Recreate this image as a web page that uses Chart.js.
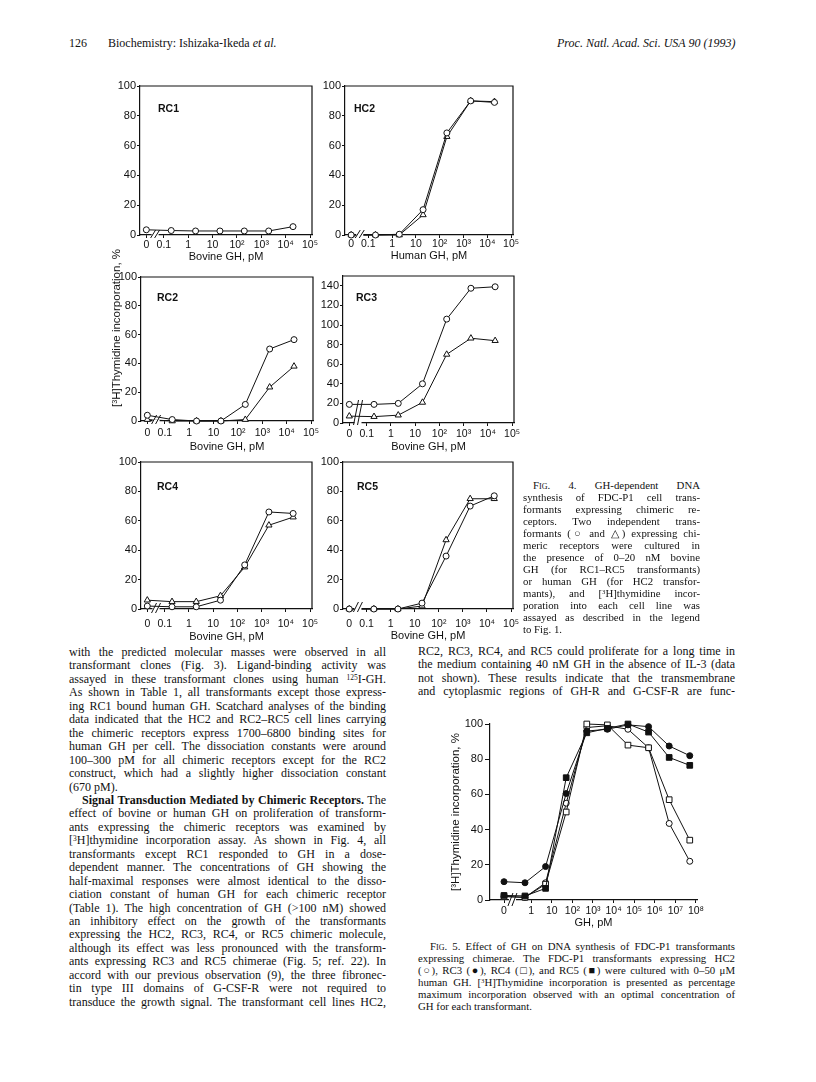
<!DOCTYPE html>
<html><head><meta charset="utf-8">
<script src="https://cdn.jsdelivr.net/npm/chart.js@4.4.1/dist/chart.umd.min.js"></script>
<style>
html,body{margin:0;padding:0;background:#fff;}
body{width:816px;height:1082px;position:relative;overflow:hidden;font-family:'Liberation Serif','Times New Roman',serif;color:#111;}
canvas{position:absolute;}
.tl{position:absolute;white-space:nowrap;}
.just{text-align:justify;text-align-last:justify;}
.body{font-size:12px;line-height:13.45px;}
.cap{font-size:10.8px;line-height:12px;}
.sc{font-variant:small-caps;}
sup{font-size:0.62em;vertical-align:baseline;position:relative;top:-0.45em;line-height:0;}
.ytitle{position:absolute;white-space:nowrap;font-family:'Liberation Sans',Arial,sans-serif;font-size:11.5px;color:#111;transform:translate(-50%,-50%) rotate(-90deg);}
</style></head>
<body>
<script>
// ---------------- DATA ----------------
// Fig. 4 : doses (pM) and tick labels
const FIG4_DOSES_PM = [0, 0.2, 2, 20, 200, 2000, 20000];
const FIG4_X_TICKS = [0, 0.1, 1, 10, 100, 1000, 10000, 100000];
const FIG4_X_LABELS = ['0', '0.1', '1', '10', '10²', '10³', '10⁴', '10⁵'];
const Y_TICKS_100 = [0, 20, 40, 60, 80, 100];
const Y_TICKS_RC3 = [0, 20, 40, 60, 80, 100, 120, 140];

const rc1Circle   = [3.5, 3, 2.7, 2.7, 2.7, 2.7, 5.6];
const hc2Circle   = [0, 0, 0.5, 17, 68.5, 90, 89];
const hc2Triangle = [0, 0, 0, 13.5, 66, 90, 89.5];
const rc2Circle   = [4, 1, 0, 0, 11.5, 50, 56.5];
const rc2Triangle = [1, 0, 0, 0, 1, 23.5, 38];
const rc3Circle   = [19, 19, 20, 40, 106, 137.5, 139];
const rc3Triangle = [7, 6.5, 8, 21, 70, 86.5, 84];
const rc4Circle   = [2, 1.5, 1.5, 6, 30, 66, 65];
const rc4Triangle = [6, 5, 5, 9, 28.5, 57, 62.5];
const rc5Circle   = [0, 0, 0, 4, 36, 70, 77];
const rc5Triangle = [0, 0, 0, 2, 47, 75, 75];

// Fig. 5
const FIG5_DOSES_PM = [0, 0.5, 5, 50, 500, 5000, 50000, 500000, 5000000, 50000000];
const FIG5_X_TICKS = [0, 1, 10, 100, 1000, 10000, 100000, 1000000, 10000000, 100000000];
const FIG5_X_LABELS = ['0', '1', '10', '10²', '10³', '10⁴', '10⁵', '10⁶', '10⁷', '10⁸'];
const FIG5_Y_TICKS = [0, 20, 40, 60, 80, 100];
const fig5HC2 = [2, 1.5, 9.8, 55, 98, 99, 97, 86.5, 43.5, 22];
const fig5RC3 = [10.4, 9.8, 19, 60.5, 96, 97, 99.5, 98.5, 87.5, 82];
const fig5RC4 = [2, 1.5, 9, 50, 100, 99.5, 88, 86.5, 57, 34];
const fig5RC5 = [2.6, 2.3, 6.6, 69.5, 95, 97.5, 100, 95.4, 81, 76.5];

// ---------------- RENDERING ----------------
const INK = '#111';
const SANS = "'Liberation Sans', Arial, 'DejaVu Sans', sans-serif";
Chart.defaults.font.family = SANS;
Chart.defaults.font.size = 11;
Chart.defaults.color = INK;

const FIG4_ZERO = -1.72, FIG4_MIN = -1.98, FIG4_MAX = 5.08, FIG4_BREAK = -1.36;
const FIG5_ZERO = -1.32, FIG5_MIN = -2.0, FIG5_MAX = 8.05, FIG5_BREAK = -0.91;
function toAxis(d, zero) { return d === 0 ? zero : Math.log10(d); }

const decor = {
  id: 'decor',
  afterDraw(chart, args, o) {
    const ctx = chart.ctx, a = chart.chartArea;
    ctx.save();
    ctx.strokeStyle = INK; ctx.fillStyle = INK;
    if (o.box) {
      ctx.lineWidth = 1.2;
      ctx.beginPath(); ctx.moveTo(a.left, a.top); ctx.lineTo(a.right, a.top); ctx.lineTo(a.right, a.bottom); ctx.stroke();
    }
    if (o.label) {
      ctx.font = 'bold 10.5px ' + SANS; ctx.textBaseline = 'middle'; ctx.textAlign = 'left';
      ctx.fillText(o.label, a.left + o.lx, a.top + o.ly);
    }
    if (o.breakAt !== undefined) {
      const x = chart.scales.x.getPixelForValue(o.breakAt), y = a.bottom;
      ctx.fillStyle = '#fff'; ctx.fillRect(x - 3.5, y - 1.5, 7, 3);
      ctx.lineWidth = 1;
      for (const dx of [-2, 2]) {
        ctx.beginPath();
        ctx.moveTo(x + dx - o.bw, y + o.bdown);
        ctx.lineTo(x + dx + o.bw, y - o.bup);
        ctx.stroke();
      }
    }
    ctx.restore();
  }
};
Chart.register(decor);

function makeCanvas(left, top, w, h) {
  const cv = document.createElement('canvas');
  cv.width = w; cv.height = h;
  cv.style.left = left + 'px'; cv.style.top = top + 'px';
  cv.style.width = w + 'px'; cv.style.height = h + 'px';
  document.body.appendChild(cv);
  return cv;
}
function axisGrid(len) {
  return { display: true, drawOnChartArea: false, drawTicks: true, tickLength: len, color: INK, tickColor: INK, lineWidth: 1 };
}

const CIRCLE = { style: 'circle', radius: 3, filled: false };
const TRIANGLE = { style: 'triangle', radius: 3.6, filled: false };

const fig4Panels = [
  { box: [140, 86, 312, 235], label: 'RC1', lx: 18, ly: 23, title: 'Bovine GH, pM', yMax: 100, yTicks: Y_TICKS_100, pad: 1, B: 29, bup: 5, bdown: 3,
    series: [{ values: rc1Circle, ...CIRCLE }] },
  { box: [345, 86, 513, 235], label: 'HC2', lx: 9, ly: 23, title: 'Human GH, pM', yMax: 100, yTicks: Y_TICKS_100, pad: 0, B: 28, bup: 5, bdown: 3,
    series: [{ values: hc2Circle, ...CIRCLE }, { values: hc2Triangle, ...TRIANGLE }] },
  { box: [141, 277, 313, 421], label: 'RC2', lx: 16, ly: 21, title: 'Bovine GH, pM', yMax: 100, yTicks: Y_TICKS_100, pad: 3, B: 33, bup: 6, bdown: 3,
    series: [{ values: rc2Circle, ...CIRCLE }, { values: rc2Triangle, ...TRIANGLE }] },
  { box: [343, 276, 514, 423], label: 'RC3', lx: 13, ly: 22, title: 'Bovine GH, pM', yMax: 150, yTicks: Y_TICKS_RC3, pad: 2, B: 31, bup: 23, bdown: 2,
    series: [{ values: rc3Circle, ...CIRCLE }, { values: rc3Triangle, ...TRIANGLE }] },
  { box: [141, 462, 312, 609], label: 'RC4', lx: 16, ly: 25, title: 'Bovine GH, pM', yMax: 100, yTicks: Y_TICKS_100, pad: 6, B: 35, bup: 6, bdown: 4,
    series: [{ values: rc4Circle, ...CIRCLE }, { values: rc4Triangle, ...TRIANGLE }] },
  { box: [343, 462, 513, 609], label: 'RC5', lx: 14, ly: 25, title: 'Bovine GH, pM', yMax: 100, yTicks: Y_TICKS_100, pad: 6, B: 34, bup: 7, bdown: 3,
    series: [{ values: rc5Circle, ...CIRCLE }, { values: rc5Triangle, ...TRIANGLE }] }
];

function buildFig4Panel(p) {
  const [l, t, r, b] = p.box;
  const L = 34, R = 16, T = 10, B = p.B;
  const w = r - l + L + R, h = b - t + T + B;
  const cv = makeCanvas(l - L, t - T, w, h);
  new Chart(cv, {
    type: 'line',
    data: { datasets: p.series.map(s => ({
      data: FIG4_DOSES_PM.map((d, i) => ({ x: toAxis(d, FIG4_ZERO), y: s.values[i] })),
      borderColor: INK, borderWidth: 1, tension: 0, fill: false,
      pointStyle: s.style, pointRadius: s.radius, pointBorderColor: INK, pointBorderWidth: 1,
      pointBackgroundColor: s.filled ? INK : '#fff', clip: false
    })) },
    options: {
      responsive: false, animation: false, devicePixelRatio: 1,
      layout: { padding: { left: 0, right: R, top: T, bottom: 0 } },
      plugins: { legend: { display: false }, tooltip: { enabled: false },
        decor: { box: true, label: p.label, lx: p.lx, ly: p.ly, breakAt: FIG4_BREAK, bw: 2.5, bup: p.bup, bdown: p.bdown } },
      scales: {
        x: { type: 'linear', min: FIG4_MIN, max: FIG4_MAX,
          afterFit: s => { s.height = B; },
          afterBuildTicks: s => { s.ticks = FIG4_X_TICKS.map(d => ({ value: toAxis(d, FIG4_ZERO) })); },
          ticks: { autoSkip: false, maxRotation: 0, minRotation: 0, padding: p.pad, font: { size: 10.5 },
            callback: (v, i) => FIG4_X_LABELS[i] },
          grid: axisGrid(3), border: { display: true, color: INK, width: 1.2 },
          title: { display: true, text: p.title, padding: 0, font: { size: 11 } } },
        y: { type: 'linear', min: 0, max: p.yMax,
          afterFit: s => { s.width = L; },
          afterBuildTicks: s => { s.ticks = p.yTicks.map(v => ({ value: v })); },
          ticks: { padding: 1, font: { size: 11 } },
          grid: axisGrid(3), border: { display: true, color: INK, width: 1.2 } }
      }
    }
  });
}
fig4Panels.forEach(buildFig4Panel);

// Fig. 5
(function () {
  const [l, t, r, b] = [490, 724, 697, 900];
  const L = 41, R = 16, T = 10, B = 30;
  const w = r - l + L + R, h = b - t + T + B;
  const cv = makeCanvas(l - L, t - T, w, h);
  const series = [
    { values: fig5RC5, style: 'rect', radius: 4, filled: true },
    { values: fig5RC3, style: 'circle', radius: 3, filled: true },
    { values: fig5RC4, style: 'rect', radius: 4, filled: false },
    { values: fig5HC2, style: 'circle', radius: 3, filled: false }
  ];
  new Chart(cv, {
    type: 'line',
    data: { datasets: series.map(s => ({
      data: FIG5_DOSES_PM.map((d, i) => ({ x: toAxis(d, FIG5_ZERO), y: s.values[i] })),
      borderColor: INK, borderWidth: 1, tension: 0, fill: false,
      pointStyle: s.style, pointRadius: s.radius, pointBorderColor: INK, pointBorderWidth: 1,
      pointBackgroundColor: s.filled ? INK : '#fff', clip: false
    })) },
    options: {
      responsive: false, animation: false, devicePixelRatio: 1,
      layout: { padding: { left: 0, right: R, top: T, bottom: 0 } },
      plugins: { legend: { display: false }, tooltip: { enabled: false },
        decor: { box: false, breakAt: FIG5_BREAK, bw: 2.5, bup: 7, bdown: 6 } },
      scales: {
        x: { type: 'linear', min: FIG5_MIN, max: FIG5_MAX,
          afterFit: s => { s.height = B; },
          afterBuildTicks: s => { s.ticks = FIG5_X_TICKS.map(d => ({ value: toAxis(d, FIG5_ZERO) })); },
          ticks: { autoSkip: false, maxRotation: 0, minRotation: 0, padding: 2, font: { size: 10.5 },
            callback: (v, i) => FIG5_X_LABELS[i] },
          grid: axisGrid(3), border: { display: true, color: INK, width: 1.2 },
          title: { display: true, text: 'GH, pM', padding: 0, font: { size: 11 } } },
        y: { type: 'linear', min: 0, max: 100,
          afterFit: s => { s.width = L; },
          afterBuildTicks: s => { s.ticks = FIG5_Y_TICKS.map(v => ({ value: v })); },
          ticks: { padding: 2, font: { size: 11 } },
          grid: axisGrid(5), border: { display: true, color: INK, width: 1.2 },
          title: { display: true, text: '[³H]Thymidine incorporation, %', padding: 0, font: { size: 11.5 } } }
      }
    }
  });
})();

// ---------------- TEXT ----------------
function addText(html, x, top, cls, extra) {
  const d = document.createElement('div');
  d.className = 'tl ' + cls;
  d.innerHTML = html;
  d.style.left = x + 'px'; d.style.top = top + 'px';
  if (extra) Object.assign(d.style, extra);
  document.body.appendChild(d);
  return d;
}
function addColumn(lines, x, w, firstTop, step, cls) {
  lines.forEach((ln, i) => {
    const indent = ln.i || 0;
    const d = addText(ln.h, x + indent, firstTop + i * step, cls);
    const nat = d.offsetWidth, avail = w - indent;
    if (nat > avail) {
      d.style.transformOrigin = 'left top';
      d.style.transform = 'scaleX(' + (avail / nat) + ')';
    } else if (!ln.last) {
      d.style.width = avail + 'px';
      d.classList.add('just');
    }
  });
}

// header
addText('126', 69, 37, 'body');
addText('Biochemistry: Ishizaka-Ikeda <i>et al.</i>', 108, 37, 'body');
const hdr = addText('<i>Proc. Natl. Acad. Sci. USA 90 (1993)</i>', 0, 37, 'body');
hdr.style.left = (735 - hdr.offsetWidth) + 'px';

// Fig 4 y title
const yt = document.createElement('div');
yt.className = 'ytitle';
yt.innerHTML = '[<sup>3</sup>H]Thymidine incorporation, %';
yt.style.left = '116px'; yt.style.top = '328px';
document.body.appendChild(yt);

const leftLines = [
  { h: 'with the predicted molecular masses were observed in all' },
  { h: 'transformant clones (Fig. 3). Ligand-binding activity was' },
  { h: 'assayed in these transformant clones using human <sup>125</sup>I-GH.' },
  { h: 'As shown in Table 1, all transformants except those express-' },
  { h: 'ing RC1 bound human GH. Scatchard analyses of the binding' },
  { h: 'data indicated that the HC2 and RC2–RC5 cell lines carrying' },
  { h: 'the chimeric receptors express 1700–6800 binding sites for' },
  { h: 'human GH per cell. The dissociation constants were around' },
  { h: '100–300 pM for all chimeric receptors except for the RC2' },
  { h: 'construct, which had a slightly higher dissociation constant' },
  { h: '(670 pM).', last: true },
  { h: '<b>Signal Transduction Mediated by Chimeric Receptors.</b> The', i: 13 },
  { h: 'effect of bovine or human GH on proliferation of transform-' },
  { h: 'ants expressing the chimeric receptors was examined by' },
  { h: '[<sup>3</sup>H]thymidine incorporation assay. As shown in Fig. 4, all' },
  { h: 'transformants except RC1 responded to GH in a dose-' },
  { h: 'dependent manner. The concentrations of GH showing the' },
  { h: 'half-maximal responses were almost identical to the disso-' },
  { h: 'ciation constant of human GH for each chimeric receptor' },
  { h: '(Table 1). The high concentration of GH (&gt;100 nM) showed' },
  { h: 'an inhibitory effect on the growth of the transformants' },
  { h: 'expressing the HC2, RC3, RC4, or RC5 chimeric molecule,' },
  { h: 'although its effect was less pronounced with the transform-' },
  { h: 'ants expressing RC3 and RC5 chimerae (Fig. 5; ref. 22). In' },
  { h: 'accord with our previous observation (9), the three fibronec-' },
  { h: 'tin type III domains of G-CSF-R were not required to' },
  { h: 'transduce the growth signal. The transformant cell lines HC2,' }
];
addColumn(leftLines, 69, 317, 646, 13.45, 'body');

const rightLines = [
  { h: 'RC2, RC3, RC4, and RC5 could proliferate for a long time in' },
  { h: 'the medium containing 40 nM GH in the absence of IL-3 (data' },
  { h: 'not shown). These results indicate that the transmembrane' },
  { h: 'and cytoplasmic regions of GH-R and G-CSF-R are func-' }
];
addColumn(rightLines, 418, 317, 645, 13.45, 'body');

const fig4Caption = [
  { h: '<span class="sc">Fig.</span> 4. GH-dependent DNA', i: 10 },
  { h: 'synthesis of FDC-P1 cell trans-' },
  { h: 'formants expressing chimeric re-' },
  { h: 'ceptors. Two independent trans-' },
  { h: 'formants (○ and △) expressing chi-' },
  { h: 'meric receptors were cultured in' },
  { h: 'the presence of 0–20 nM bovine' },
  { h: 'GH (for RC1–RC5 transformants)' },
  { h: 'or human GH (for HC2 transfor-' },
  { h: 'mants), and [<sup>3</sup>H]thymidine incor-' },
  { h: 'poration into each cell line was' },
  { h: 'assayed as described in the legend' },
  { h: 'to Fig. 1.', last: true }
];
addColumn(fig4Caption, 523, 177, 479, 12, 'cap');

const fig5Caption = [
  { h: '<span class="sc">Fig.</span> 5. Effect of GH on DNA synthesis of FDC-P1 transformants', i: 12 },
  { h: 'expressing chimerae. The FDC-P1 transformants expressing HC2' },
  { h: '(○), RC3 (●), RC4 (□), and RC5 (■) were cultured with 0–50 μM' },
  { h: 'human GH. [<sup>3</sup>H]Thymidine incorporation is presented as percentage' },
  { h: 'maximum incorporation observed with an optimal concentration of' },
  { h: 'GH for each transformant.', last: true }
];
addColumn(fig5Caption, 418, 317, 940, 12, 'cap');
</script>
</body></html>
